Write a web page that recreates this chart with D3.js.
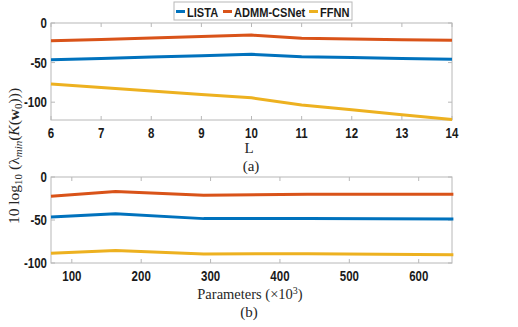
<!DOCTYPE html>
<html><head><meta charset="utf-8">
<script src="https://cdn.jsdelivr.net/npm/d3@7"></script>
<style>body{margin:0;background:#fff}svg{display:block}</style>
</head><body><svg id="c" width="518" height="327"></svg>
<script>
const seriesNames = ["LISTA", "ADMM-CSNet", "FFNN"];
const colors = ["#0072BD", "#D95319", "#EDB120"];
// Panel (a)
const Lvals = [6, 7, 8, 9, 10, 11, 12, 13, 14];
const aLISTA = [-46.5, -44.8, -43, -41.3, -39.5, -42.5, -43.6, -44.7, -45.8];
const aADMM = [-22.5, -20.8, -19, -17.2, -15.3, -19.2, -20.1, -21, -21.9];
const aFFNN = [-77, -81.5, -85.8, -90.2, -94.5, -103.5, -109.6, -115.8, -122];
const aXTicks = [6, 7, 8, 9, 10, 11, 12, 13, 14];
const aYTicks = [0, -50, -100];
// Panel (b)
const Pvals = [70, 163, 290, 440, 650];
const bLISTA = [-46.5, -42.7, -48.4, -48.2, -48.9];
const bADMM = [-22.5, -16.8, -21.2, -20.2, -20.2];
const bFFNN = [-88.8, -85.4, -89.4, -89.2, -90.3];
const bXTicks = [100, 200, 300, 400, 500, 600];
const bYTicks = [0, -50, -100];

const svg = d3.select("#c");
const tickFont = "'Liberation Sans',Arial,sans-serif";
const serif = "'Liberation Serif','DejaVu Serif',serif";
const L = 51, R = 452;
const SX = 0.82;

function narrowText(g, x, y, anchor, size, txt) {
  return g.append("text").attr("transform", `translate(${x},${y}) scale(${SX},1)`)
    .attr("text-anchor", anchor).attr("font-family", tickFont).attr("font-weight", "bold")
    .attr("font-size", size).attr("fill", "#1a1a1a").text(txt);
}

function panel(top, bottom, xDom, yDom, xs, ys, xTicks, yTicks) {
  const x = d3.scaleLinear().domain(xDom).range([L, R]);
  const y = d3.scaleLinear().domain(yDom).range([bottom, top]);
  const g = svg.append("g");
  const axCol = "#b8b8b8";
  const tl = 4;
  xTicks.forEach(t => {
    g.append("line").attr("x1", x(t)).attr("x2", x(t)).attr("y1", bottom).attr("y2", bottom - tl).attr("stroke", axCol);
    g.append("line").attr("x1", x(t)).attr("x2", x(t)).attr("y1", top).attr("y2", top + tl).attr("stroke", axCol);
    narrowText(g, x(t), bottom + 18, "middle", 14, t);
  });
  yTicks.forEach(t => {
    g.append("line").attr("x1", L).attr("x2", L + tl).attr("y1", y(t)).attr("y2", y(t)).attr("stroke", axCol);
    g.append("line").attr("x1", R).attr("x2", R - tl).attr("y1", y(t)).attr("y2", y(t)).attr("stroke", axCol);
    narrowText(g, L - 4, y(t) + 5, "end", 14, t);
  });
  g.append("rect").attr("x", L).attr("y", top).attr("width", R - L).attr("height", bottom - top)
    .attr("fill", "none").attr("stroke", axCol).attr("stroke-width", 1);
  const line = d3.line().x(d => x(d[0])).y(d => y(d[1]));
  ys.forEach((s, i) => {
    g.append("path").datum(xs.map((v, j) => [v, s[j]])).attr("d", line)
      .attr("fill", "none").attr("stroke", colors[i]).attr("stroke-width", 3).attr("stroke-linejoin", "round");
  });
}

panel(23, 120, [6, 14], [-122.5, 0], Lvals, [aLISTA, aADMM, aFFNN], aXTicks, aYTicks);
panel(177, 263, [70, 648], [-100, 0], Pvals, [bLISTA, bADMM, bFFNN], bXTicks, bYTicks);

// labels
svg.append("text").attr("x", 249).attr("y", 153).attr("text-anchor", "middle").attr("font-family", serif).attr("font-size", 15).attr("fill", "#262626").text("L");
svg.append("text").attr("x", 251).attr("y", 171).attr("text-anchor", "middle").attr("font-family", serif).attr("font-size", 15).attr("fill", "#262626").text("(a)");
const pl = svg.append("text").attr("x", 250).attr("y", 299).attr("text-anchor", "middle").attr("font-family", serif).attr("font-size", 14.5).attr("fill", "#262626");
pl.append("tspan").text("Parameters (×10");
pl.append("tspan").attr("font-size", 10).attr("dy", -5).text("3");
pl.append("tspan").attr("dy", 5).text(")");
svg.append("text").attr("x", 249).attr("y", 317).attr("text-anchor", "middle").attr("font-family", serif).attr("font-size", 15).attr("fill", "#262626").text("(b)");

// y label
const yl = svg.append("text").attr("transform", "translate(19,156) rotate(-90)").attr("text-anchor", "middle")
  .attr("font-family", serif).attr("font-size", 15.5).attr("fill", "#262626");
yl.append("tspan").text("10 log");
yl.append("tspan").attr("font-size", 11).attr("dy", 3).text("10");
yl.append("tspan").attr("dy", -3).text(" (λ");
yl.append("tspan").attr("font-size", 11).attr("font-style", "italic").attr("dy", 3).text("min");
yl.append("tspan").attr("dy", -3).text("(");
yl.append("tspan").attr("font-style", "italic").text("K");
yl.append("tspan").text("(");
yl.append("tspan").attr("font-weight", "bold").text("w");
yl.append("tspan").attr("font-size", 11).attr("dy", 3).text("0");
yl.append("tspan").attr("dy", -3).text(")))");

// legend
const lg = svg.append("g");
lg.append("rect").attr("x", 174).attr("y", 2).attr("width", 178).attr("height", 18).attr("fill", "#fff").attr("stroke", "#b8b8b8");
const lx = [176, 223, 309];
seriesNames.forEach((n, i) => {
  lg.append("line").attr("x1", lx[i]).attr("x2", lx[i] + 9).attr("y1", 11.5).attr("y2", 11.5).attr("stroke", colors[i]).attr("stroke-width", 3);
  narrowText(lg, lx[i] + 11, 16.5, "start", 13.5, n);
});
</script></body></html>
